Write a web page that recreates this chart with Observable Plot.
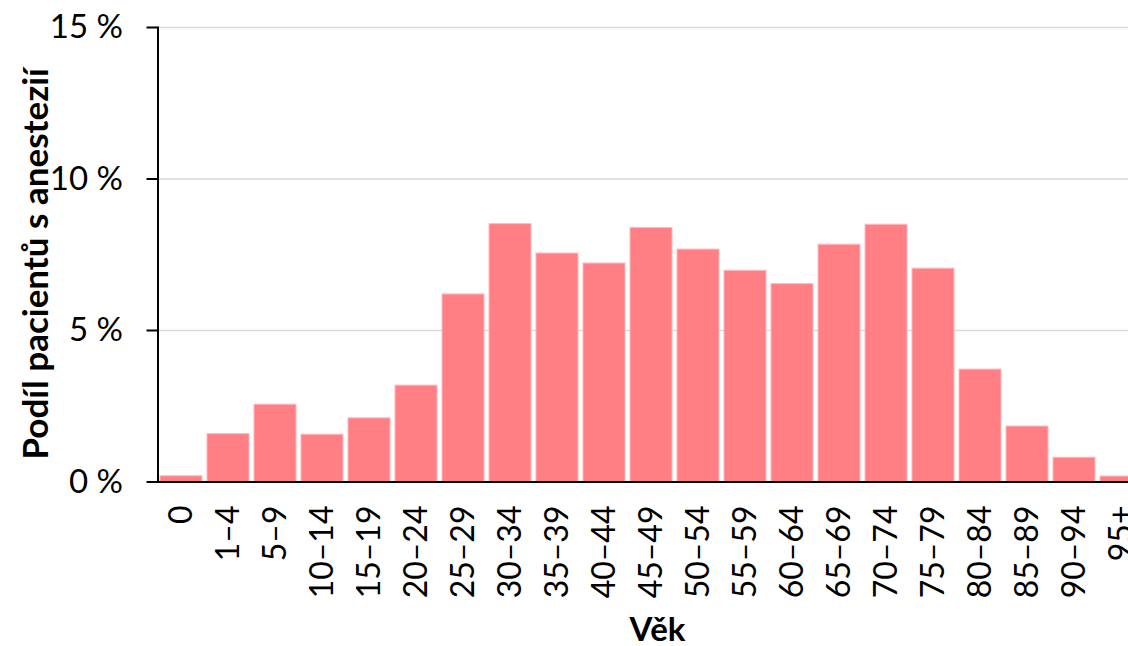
<!DOCTYPE html>
<html>
<head>
<meta charset="utf-8">
<script src="https://cdn.jsdelivr.net/npm/d3@7"></script>
<script src="https://cdn.jsdelivr.net/npm/@observablehq/plot@0.6"></script>
<style>
  html, body { margin: 0; padding: 0; background: #fff; overflow: hidden; }
  #chart svg { overflow: hidden; }
</style>
</head>
<body>
<div id="chart"></div>
<script>
const ageGroups = ["0","1–4","5–9","10–14","15–19","20–24","25–29","30–34","35–39","40–44","45–49","50–54","55–59","60–64","65–69","70–74","75–79","80–84","85–89","90–94","95+"];
const shares = [0.19,1.58,2.55,1.56,2.10,3.18,6.19,8.51,7.54,7.21,8.38,7.67,6.97,6.53,7.83,8.49,7.04,3.71,1.83,0.80,0.18];
const yTicks = [0,5,10,15];
const yTitle = "Podíl pacientů s anestezií";
const xTitle = "Věk";

const data = ageGroups.map((g, i) => ({group: g, share: shares[i]}));
const font = "Lato, 'Open Sans', sans-serif";

const chart = Plot.plot({
  width: 1128,
  height: 646,
  marginLeft: 157.5,
  marginRight: -16.5,
  marginTop: 27,
  marginBottom: 164.5,
  style: {fontFamily: font, fontSize: "31px", color: "#000", background: "#fff", overflow: "hidden"},
  x: {domain: ageGroups, paddingInner: 0.1, paddingOuter: 0.05},
  y: {domain: [0, 15]},
  marks: [
    Plot.gridY(yTicks.filter(d => d > 0), {stroke: "#d9d9d9", strokeOpacity: 1, strokeWidth: 1.5}),
    Plot.barY(data, {x: "group", y: "share", fill: "#ff7f85", stroke: "#ffb8ba", strokeWidth: 1}),
    Plot.frame({anchor: "left", stroke: "#000", strokeWidth: 2}),
    Plot.ruleY([0], {stroke: "#000", strokeWidth: 2}),
    Plot.axisY({ticks: yTicks, tickFormat: d => d + " %", tickSize: 11, tickPadding: 24, label: null, stroke: "#000", strokeWidth: 2, fontSize: 33}),
    Plot.axisX({tickRotate: -90, tickSize: 0, tickPadding: 23.5, label: null, fontSize: 32}),
    Plot.text([yTitle], {frameAnchor: "left", dx: -121.5, dy: 9, rotate: -90, text: d => d, textAnchor: "middle", fontWeight: "bold", fontSize: 35, lineAnchor: "middle", fill: "#000"}),
    Plot.text([xTitle], {frameAnchor: "bottom", dx: 6, dy: 148, text: d => d, fontWeight: "bold", fontSize: 33, lineAnchor: "middle", fill: "#000"})
  ]
});
document.getElementById("chart").appendChild(chart);
</script>
</body>
</html>
